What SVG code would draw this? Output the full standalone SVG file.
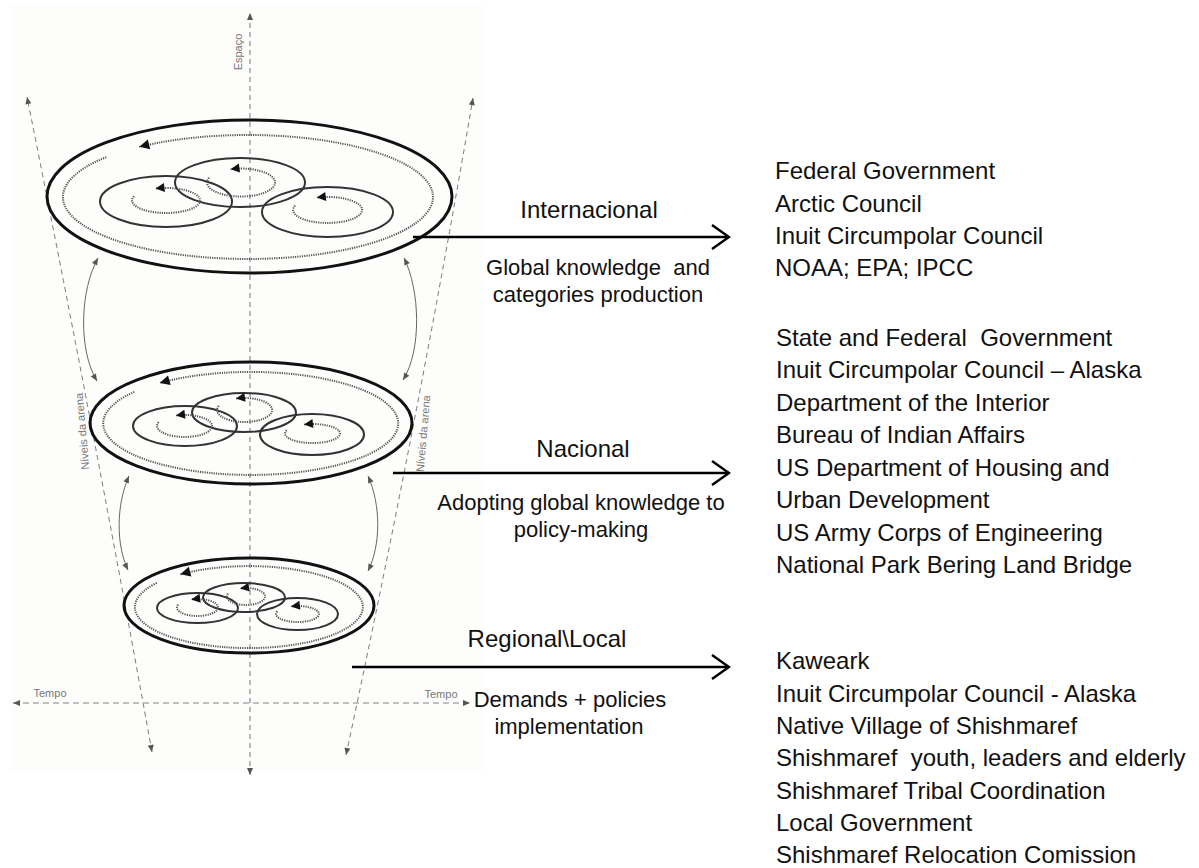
<svg xmlns="http://www.w3.org/2000/svg" width="1199" height="868" viewBox="0 0 1199 868">
<style>
.lbl{font-family:"Liberation Sans",Arial,sans-serif;font-size:24px;fill:#111;text-anchor:middle}
.sub{font-size:22px}
.list{font-family:"Liberation Sans",Arial,sans-serif;font-size:24px;fill:#111}
.ax{font-family:"Liberation Sans",Arial,sans-serif;font-size:11px;fill:#777;text-anchor:middle}
.disk{fill:none;stroke:#111;stroke-width:3}
.ring{fill:none;stroke:#555;stroke-width:2;stroke-dasharray:1.2 1.1}
.circ{fill:none;stroke:#333;stroke-width:2}
.loop{fill:none;stroke:#555;stroke-width:2;stroke-dasharray:1.2 1.1}
.axis{fill:none;stroke:#777;stroke-width:1;stroke-dasharray:5 4}
.tempo{fill:none;stroke:#aaa;stroke-width:1.5;stroke-dasharray:6 4}
.curve{fill:none;stroke:#666;stroke-width:1}
.arrow{fill:none;stroke:#000;stroke-width:2.5}
</style>
<defs>
<marker id="tri" markerUnits="userSpaceOnUse" viewBox="-11 -6 12 12" markerWidth="12" markerHeight="12" refX="0" refY="0" orient="auto">
<path d="M0,0 L-10,-5 L-10,5 Z" fill="#111"/>
</marker>
<marker id="tris" markerUnits="userSpaceOnUse" viewBox="-10 -5 11 10" markerWidth="11" markerHeight="10" refX="0" refY="0" orient="auto">
<path d="M0,0 L-9,-4.5 L-9,4.5 Z" fill="#111"/>
</marker>
<marker id="axh" markerUnits="userSpaceOnUse" viewBox="-8 -4 9 8" markerWidth="9" markerHeight="8" refX="0" refY="0" orient="auto-start-reverse">
<path d="M0,0 L-7,-3 L-7,3 Z" fill="#555"/>
</marker>
<marker id="chev" markerUnits="userSpaceOnUse" viewBox="-20 -14 22 28" markerWidth="22" markerHeight="28" refX="0" refY="0" orient="auto">
<path d="M-17,-12 L0,0 L-17,12" fill="none" stroke="#000" stroke-width="2.5"/>
</marker>
</defs>
<rect x="10" y="5" width="472" height="768" fill="#fdfdfc"/>

<g id="axes">
<path class="axis" d="M250,775 L250,13" marker-start="url(#axh)" marker-end="url(#axh)"/>
<path class="axis" d="M152,752 Q92,420 27,97" marker-start="url(#axh)" marker-end="url(#axh)"/>
<path class="axis" d="M346,755 Q418,420 473,98" marker-start="url(#axh)" marker-end="url(#axh)"/>
<path class="tempo" d="M13,703 L470,703" marker-start="url(#axh)" marker-end="url(#axh)"/>
<text class="ax" transform="translate(242,52) rotate(-90)">Espaço</text>
<text class="ax" transform="translate(86,431) rotate(-95)">Níveis da arena</text>
<text class="ax" transform="translate(427,434) rotate(-85)">Níveis da arena</text>
<text class="ax" x="50" y="697">Tempo</text>
<text class="ax" x="441" y="698">Tempo</text>
</g>

<g id="disk-internacional">
<ellipse class="disk" cx="249.5" cy="196.5" rx="202.5" ry="76.5"/>
<path class="ring" d="M106.3,157.1 A185,62 0 1 0 139.3,146.8" marker-end="url(#tri)"/>
<ellipse class="circ" cx="166" cy="201.5" rx="66" ry="25.5"/>
<ellipse class="circ" cx="240" cy="182.5" rx="65" ry="24.5"/>
<ellipse class="circ" cx="327.5" cy="212" rx="65.5" ry="25"/>
<path class="loop" d="M134.1,196.2 A34,12.5 0 1 0 155.5,188.6" marker-end="url(#tris)"/>
<path class="loop" d="M209.1,177.7 A34,14 0 1 0 230.5,169.2" marker-end="url(#tris)"/>
<path class="loop" d="M295.1,205.6 A34.5,13 0 1 0 316.8,197.6" marker-end="url(#tris)"/>
</g>

<g id="disk-nacional">
<ellipse class="disk" cx="251" cy="423" rx="161" ry="61"/>
<path class="ring" d="M134.3,391.8 A147.5,51.5 0 1 0 159.7,382.9" marker-end="url(#tri)"/>
<ellipse class="circ" cx="185" cy="426" rx="52" ry="20"/>
<ellipse class="circ" cx="244" cy="412.5" rx="52" ry="19.5"/>
<ellipse class="circ" cx="312" cy="434.5" rx="52" ry="20.5"/>
<path class="loop" d="M158.7,422.2 A27.5,11 0 1 0 176,415.5" marker-end="url(#tris)"/>
<path class="loop" d="M218.7,405.9 A27.5,12 0 1 0 236,398.6" marker-end="url(#tris)"/>
<path class="loop" d="M286.7,430.3 A27.5,9.5 0 1 0 304,424.5" marker-end="url(#tris)"/>
</g>

<g id="disk-regional">
<ellipse class="disk" cx="249" cy="605.5" rx="125" ry="47.5"/>
<path class="ring" d="M156.8,582.9 A114,41 0 1 0 180.4,574.3" marker-end="url(#tri)"/>
<ellipse class="circ" cx="197.5" cy="608" rx="40.5" ry="15"/>
<ellipse class="circ" cx="244" cy="597.5" rx="41" ry="14.5"/>
<ellipse class="circ" cx="297.5" cy="614" rx="40.5" ry="16"/>
<path class="loop" d="M178.2,604.6 A20.5,8.5 0 1 0 191.2,599.4" marker-end="url(#tris)"/>
<path class="loop" d="M228.1,593.6 A19,8.5 0 1 0 240.1,588.4" marker-end="url(#tris)"/>
<path class="loop" d="M277.3,611.3 A21.5,8 0 1 0 290.9,606.4" marker-end="url(#tris)"/>
</g>

<g id="connectors">
<path class="curve" d="M98,258 C80,290 78,350 97,381" marker-start="url(#axh)" marker-end="url(#axh)"/>
<path class="curve" d="M404,258 C420,290 422,350 403,380" marker-start="url(#axh)" marker-end="url(#axh)"/>
<path class="curve" d="M129,476 C116,505 116,545 128,570" marker-start="url(#axh)" marker-end="url(#axh)"/>
<path class="curve" d="M368,476 C381,505 381,545 368,571" marker-start="url(#axh)" marker-end="url(#axh)"/>
<path class="arrow" d="M413,237 L729,237" marker-end="url(#chev)"/>
<path class="arrow" d="M393,473 L729,473" marker-end="url(#chev)"/>
<path class="arrow" d="M352,667 L729,667" marker-end="url(#chev)"/>
</g>

<g id="label-internacional">
<text class="lbl" x="589" y="218">Internacional</text>
<text class="lbl sub" x="598" y="275" xml:space="preserve">Global knowledge  and</text>
<text class="lbl sub" x="598" y="302">categories production</text>
</g>
<g id="label-nacional">
<text class="lbl" x="583" y="457">Nacional</text>
<text class="lbl sub" x="581" y="510">Adopting global knowledge to</text>
<text class="lbl sub" x="581" y="537">policy-making</text>
</g>
<g id="label-regional">
<text class="lbl" x="547" y="647">Regional\Local</text>
<text class="lbl sub" x="570" y="707">Demands + policies</text>
<text class="lbl sub" x="569" y="734">implementation</text>
</g>

<g id="list-internacional">
<text class="list" x="775" y="179">Federal Government</text>
<text class="list" x="775" y="211.5">Arctic Council</text>
<text class="list" x="775" y="244">Inuit Circumpolar Council</text>
<text class="list" x="775" y="276">NOAA; EPA; IPCC</text>
</g>
<g id="list-nacional">
<text class="list" x="776" y="346" xml:space="preserve">State and Federal  Government</text>
<text class="list" x="776" y="378">Inuit Circumpolar Council – Alaska</text>
<text class="list" x="776" y="410.5">Department of the Interior</text>
<text class="list" x="776" y="443">Bureau of Indian Affairs</text>
<text class="list" x="776" y="476">US Department of Housing and</text>
<text class="list" x="776" y="508">Urban Development</text>
<text class="list" x="776" y="541">US Army Corps of Engineering</text>
<text class="list" x="776" y="573">National Park Bering Land Bridge</text>
</g>
<g id="list-regional">
<text class="list" x="776" y="669">Kaweark</text>
<text class="list" x="776" y="702">Inuit Circumpolar Council - Alaska</text>
<text class="list" x="776" y="734">Native Village of Shishmaref</text>
<text class="list" x="776" y="766" xml:space="preserve">Shishmaref  youth, leaders and elderly</text>
<text class="list" x="776" y="798.5">Shishmaref Tribal Coordination</text>
<text class="list" x="776" y="831">Local Government</text>
<text class="list" x="776" y="863">Shishmaref Relocation Comission</text>
</g>
</svg>
